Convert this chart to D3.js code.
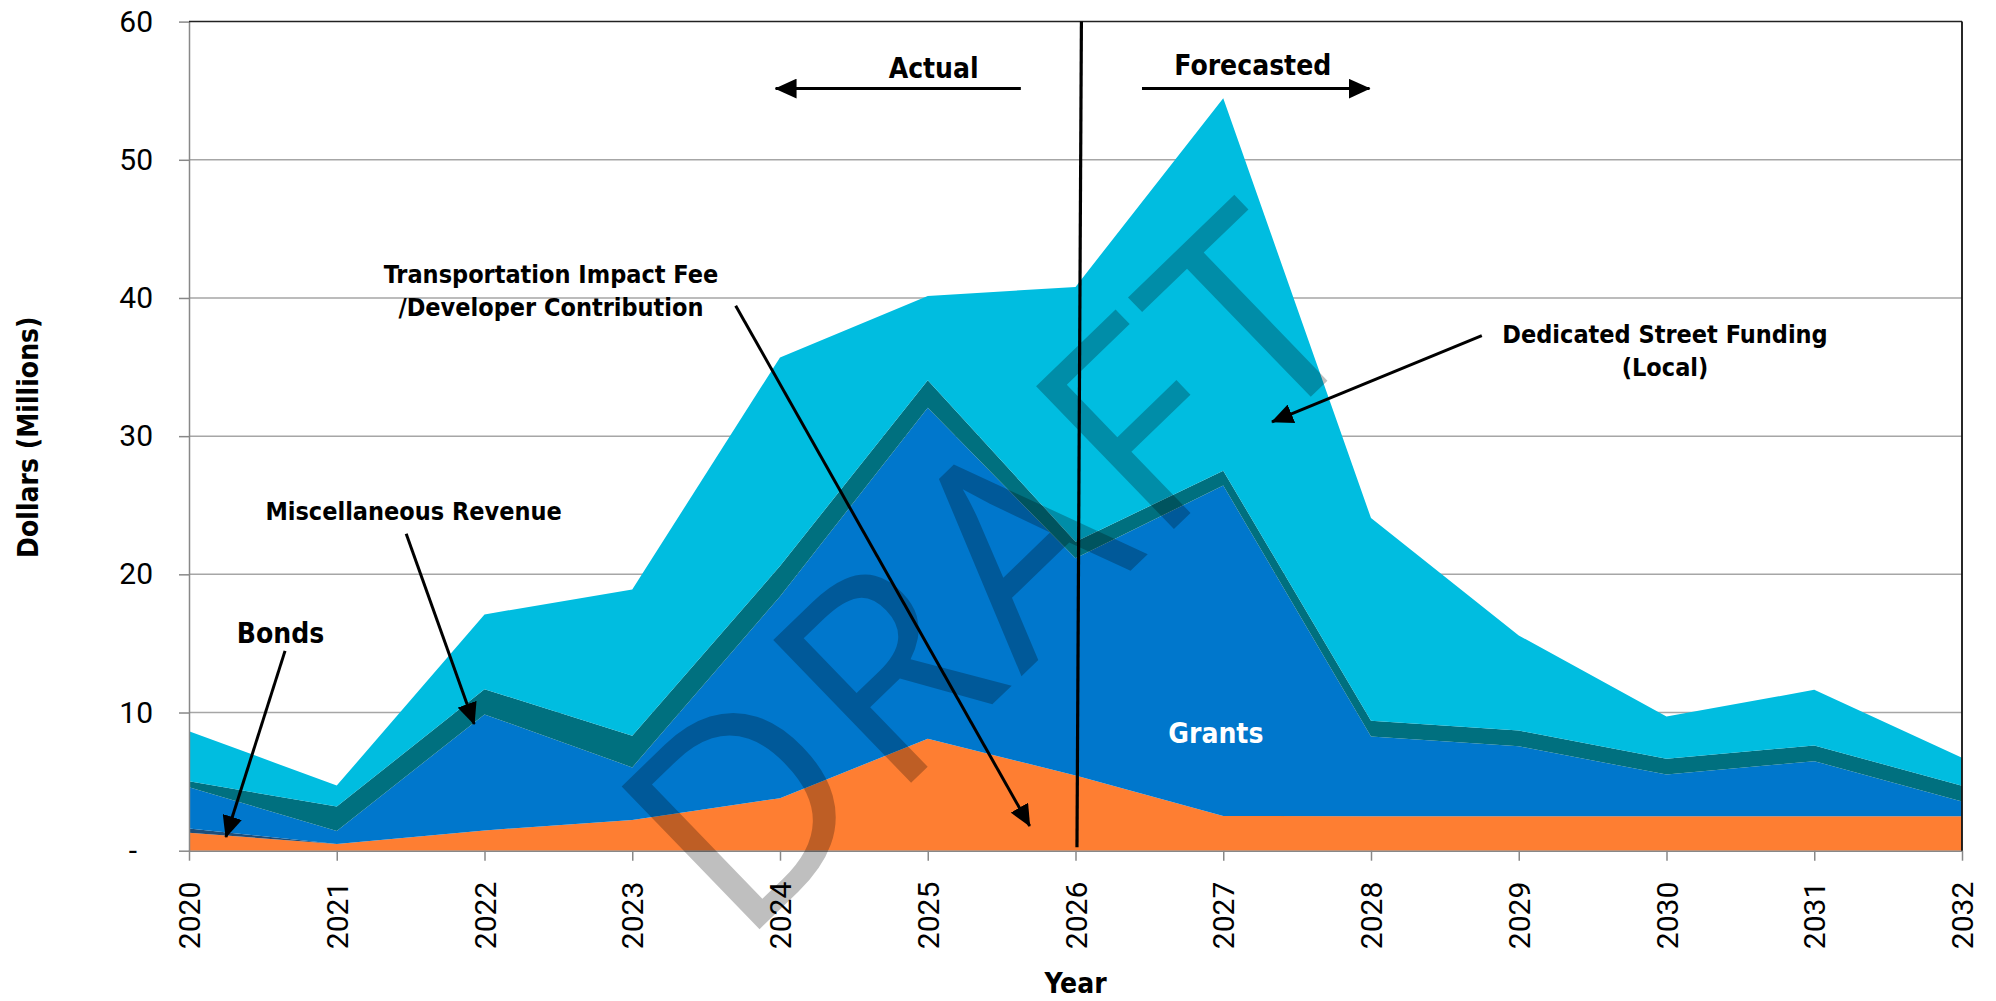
<!DOCTYPE html>
<html>
<head>
<meta charset="utf-8">
<script src="https://cdn.jsdelivr.net/npm/d3@7"></script>
<style>
  html, body { margin: 0; padding: 0; background: #fff; }
  svg { display: block; }
  .callout { font-family: "DejaVu Sans Condensed", "DejaVu Sans", sans-serif; font-stretch: condensed; font-weight: bold; fill: #000; }
  .tick text { font-family: Roboto, "Open Sans", sans-serif; font-size: 30px; fill: #000; }
</style>
</head>
<body>
<svg id="chart"></svg>
<script>
// Funding sources by year, $ millions
const years = [2020, 2021, 2022, 2023, 2024, 2025, 2026, 2027, 2028, 2029, 2030, 2031, 2032];
const impactFee     = [1.30, 0.49, 1.47, 2.23, 3.80, 8.10, 5.45, 2.51, 2.50, 2.50, 2.50, 2.50, 2.50];
const bonds         = [0.30, 0, 0, 0, 0, 0, 0, 0, 0, 0, 0, 0, 0];
const grants        = [3.00, 0.94, 8.39, 3.80, 14.60, 23.95, 15.71, 23.92, 5.76, 5.05, 3.01, 3.98, 1.06];
const miscRevenue   = [0.42, 1.76, 1.83, 2.29, 2.20, 2.00, 1.20, 1.07, 1.14, 1.14, 1.15, 1.14, 1.14];
const streetFunding = [3.63, 1.52, 5.41, 10.58, 15.10, 6.09, 18.44, 26.95, 14.67, 6.89, 3.05, 4.02, 2.03];
const yTicks = [0, 10, 20, 30, 40, 50, 60];

const seriesKeys = ['impactFee', 'bonds', 'grants', 'misc', 'street'];
const seriesColors = {
    impactFee: '#fe7e32',
    bonds: '#1f4e79',
    grants: '#0077cc',
    misc: '#00707f',
    street: '#00bde0'
};

const width = 1996, height = 1001;
const margin = {top: 21.6, right: 34, bottom: 150.3, left: 189};

const svg = d3.select('#chart')
    .attr('width', width)
    .attr('height', height);

const x = d3.scaleLinear()
    .domain([2020, 2032])
    .range([margin.left, width - margin.right]);

const y = d3.scaleLinear()
    .domain([0, 60])
    .range([height - margin.bottom, margin.top]);

// table for the stack
const table = years.map((yr, i) => ({
    year: yr,
    impactFee: impactFee[i],
    bonds: bonds[i],
    grants: grants[i],
    misc: miscRevenue[i],
    street: streetFunding[i]
}));

const stacked = d3.stack().keys(seriesKeys)(table);

// gridlines
svg.append('g')
    .selectAll('line')
    .data(yTicks.filter(t => t > 0 && t < 60))
    .enter().append('line')
    .attr('x1', x(2020))
    .attr('x2', x(2032))
    .attr('y1', d => y(d))
    .attr('y2', d => y(d))
    .attr('stroke', '#a6a6a6')
    .attr('stroke-width', 1.5);

// stacked areas
const area = d3.area()
    .x(d => x(d.data.year))
    .y0(d => y(d[0]))
    .y1(d => y(d[1]));

svg.append('g')
    .selectAll('path')
    .data(stacked)
    .enter().append('path')
    .attr('d', area)
    .attr('fill', d => seriesColors[d.key]);

// x axis
const xAxis = svg.append('g')
    .attr('transform', `translate(0,${y(0)})`)
    .call(d3.axisBottom(x)
        .tickValues(years)
        .tickFormat(d3.format('d'))
        .tickSize(10)
        .tickSizeOuter(0));
xAxis.selectAll('.tick text')
    .attr('transform', 'rotate(-90)')
    .attr('text-anchor', 'end')
    .attr('x', -31)
    .attr('y', 0)
    .attr('dy', '0.355em');

// y axis
const yAxis = svg.append('g')
    .attr('transform', `translate(${x(2020)},0)`)
    .call(d3.axisLeft(y)
        .tickValues(yTicks)
        .tickFormat(d => d === 0 ? '-' : d)
        .tickSize(10)
        .tickPadding(26)
        .tickSizeOuter(0));
yAxis.selectAll('.tick text')
    .filter(d => d === 0)
    .attr('dx', -16);

svg.selectAll('.domain, .tick line')
    .attr('stroke', '#888')
    .attr('stroke-width', 1.5);

// plot border (top and right)
svg.append('line')
    .attr('x1', x(2020)).attr('x2', x(2032))
    .attr('y1', y(60)).attr('y2', y(60))
    .attr('stroke', '#222').attr('stroke-width', 1.5);
svg.append('line')
    .attr('x1', x(2032)).attr('x2', x(2032))
    .attr('y1', y(60)).attr('y2', y(0))
    .attr('stroke', '#111').attr('stroke-width', 1.8);

// divider between actual and forecast
svg.append('line')
    .attr('x1', x(2026.04)).attr('y1', y(60))
    .attr('x2', x(2026.01)).attr('y2', y(0.25))
    .attr('stroke', '#000').attr('stroke-width', 3.2);

// arrow marker
svg.append('defs').append('marker')
    .attr('id', 'arrow')
    .attr('markerUnits', 'userSpaceOnUse')
    .attr('viewBox', '0 0 22 20')
    .attr('markerWidth', 22)
    .attr('markerHeight', 20)
    .attr('refX', 21)
    .attr('refY', 10)
    .attr('orient', 'auto')
    .append('path')
    .attr('d', 'M0,0L22,10L0,20Z')
    .attr('fill', '#000');

// callout arrows [fromYear, fromValue, toYear, toValue]
const arrows = [
    [2025.63, 55.15, 2023.97, 55.15],
    [2026.45, 55.15, 2027.99, 55.15],
    [2023.70, 39.44, 2025.69, 1.79],
    [2028.75, 37.27, 2027.33, 31.04],
    [2021.47, 22.93, 2021.93, 9.17],
    [2020.65, 14.46, 2020.25, 0.99]
];
svg.append('g')
    .selectAll('line')
    .data(arrows)
    .enter().append('line')
    .attr('x1', d => x(d[0]))
    .attr('y1', d => y(d[1]))
    .attr('x2', d => x(d[2]))
    .attr('y2', d => y(d[3]))
    .attr('stroke', '#000')
    .attr('stroke-width', 3)
    .attr('marker-end', 'url(#arrow)');

// callout labels [text, year, value, size, color]
const labels = [
    ['Actual', 2025.04, 55.95, 28, '#000'],
    ['Forecasted', 2027.20, 56.17, 28, '#000'],
    ['Transportation Impact Fee', 2022.45, 41.1, 25, '#000'],
    ['/Developer Contribution', 2022.45, 38.7, 25, '#000'],
    ['Dedicated Street Funding', 2029.99, 36.74, 25, '#000'],
    ['(Local)', 2029.99, 34.35, 25, '#000'],
    ['Miscellaneous Revenue', 2021.52, 23.95, 25, '#000'],
    ['Bonds', 2020.62, 15.04, 28, '#000'],
    ['Grants', 2026.95, 7.8, 28, '#fff']
];
svg.append('g')
    .selectAll('text')
    .data(labels)
    .enter().append('text')
    .attr('class', 'callout')
    .attr('x', d => x(d[1]))
    .attr('y', d => y(d[2]))
    .attr('text-anchor', 'middle')
    .attr('font-size', d => d[3] + 'px')
    .style('fill', d => d[4])
    .text(d => d[0]);

// axis titles
svg.append('text')
    .attr('class', 'callout')
    .attr('x', x(2026))
    .attr('y', 993)
    .attr('text-anchor', 'middle')
    .attr('font-size', '28px')
    .text('Year');

svg.append('text')
    .attr('class', 'callout')
    .attr('transform', `translate(38,${(y(0) + y(60)) / 2 + 1}) rotate(-90)`)
    .attr('text-anchor', 'middle')
    .attr('font-size', '28px')
    .text('Dollars (Millions)');

// watermark
svg.append('text')
    .attr('transform', 'translate(740,948) rotate(-44)')
    .attr('font-family', '"Open Sans", "Noto Sans", sans-serif')
    .attr('font-size', '278px')
    .attr('font-weight', 400)
    .attr('letter-spacing', '9px')
    .attr('fill', 'rgba(0,0,0,0.25)')
    .text('DRAFT');
</script>
</body>
</html>
